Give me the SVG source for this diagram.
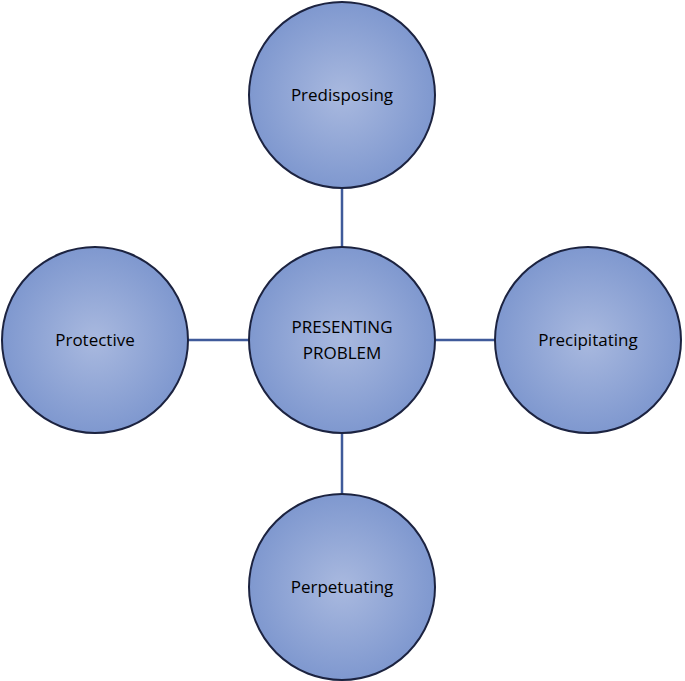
<svg xmlns="http://www.w3.org/2000/svg" width="685" height="681" viewBox="0 0 685 681">
<defs>
<radialGradient id="g" cx="50%" cy="50%" r="50%">
<stop offset="0" stop-color="#a9b9df"/>
<stop offset="1" stop-color="#7f98cf"/>
</radialGradient>
<style>
.n{fill:url(#g);stroke:#1c2340;stroke-width:2}
.t{font-family:"Open Sans","Liberation Sans",sans-serif;font-size:17px;fill:#000;text-anchor:middle}
.c{stroke:#3f5a9a;stroke-width:2.5}
</style>
</defs>
<rect width="685" height="681" fill="#fff"/>
<g id="connectors">
<line class="c" x1="342" y1="188" x2="342" y2="247"/>
<line class="c" x1="342" y1="433" x2="342" y2="494"/>
<line class="c" x1="188" y1="340" x2="249" y2="340"/>
<line class="c" x1="435" y1="340" x2="495" y2="340"/>
</g>
<g id="predisposing"><circle class="n" cx="342" cy="95" r="93"/><text class="t" x="342" y="101">Predisposing</text></g>
<g id="presenting"><circle class="n" cx="342" cy="340" r="93"/><text class="t" x="342" y="333">PRESENTING</text><text class="t" x="342" y="359">PROBLEM</text></g>
<g id="protective"><circle class="n" cx="95" cy="340" r="93"/><text class="t" x="95" y="346">Protective</text></g>
<g id="precipitating"><circle class="n" cx="588" cy="340" r="93"/><text class="t" x="588" y="346">Precipitating</text></g>
<g id="perpetuating"><circle class="n" cx="342" cy="587" r="93"/><text class="t" x="342" y="593">Perpetuating</text></g>
</svg>
